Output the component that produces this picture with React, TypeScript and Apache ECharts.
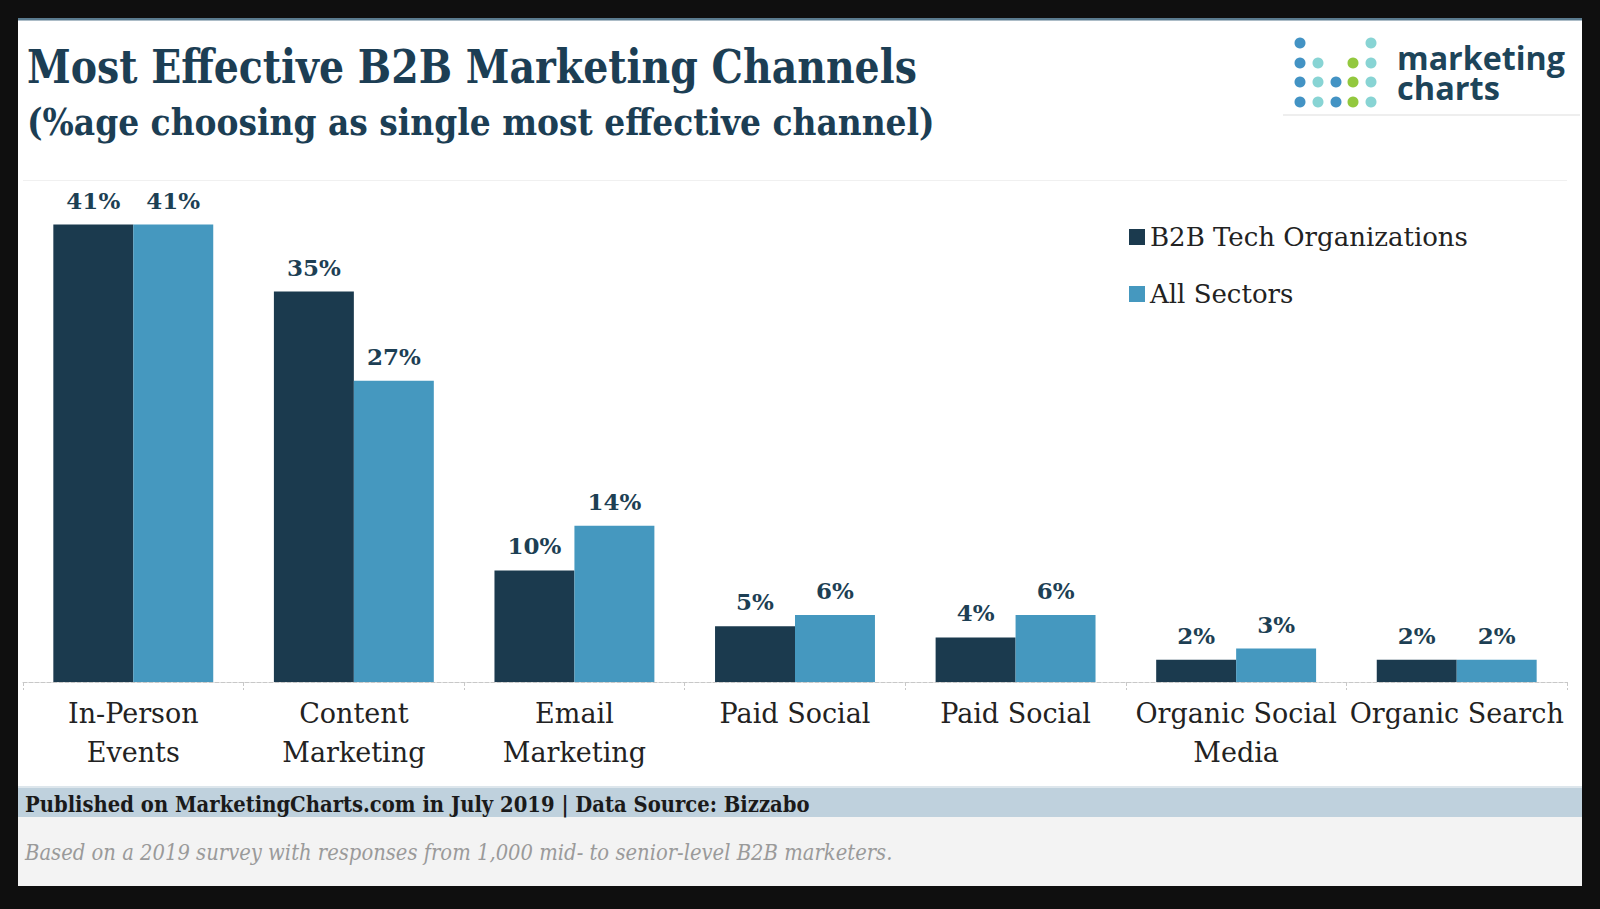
import React, { useEffect, useRef } from 'react';
import * as echarts from 'echarts';

const categories = [
  'In-Person\nEvents',
  'Content\nMarketing',
  'Email\nMarketing',
  'Paid Social',
  'Paid Social',
  'Organic Social\nMedia',
  'Organic Search',
];
const b2bTech = [41, 35, 10, 5, 4, 2, 2];
const allSectors = [41, 27, 14, 6, 6, 3, 2];
const seriesNames = ['B2B Tech Organizations', 'All Sectors'];

const TITLE = 'Most Effective B2B Marketing Channels';
const SUBTITLE = '(%age choosing as single most effective channel)';
const SOURCE = 'Published on MarketingCharts.com in July 2019 | Data Source: Bizzabo';
const NOTE = 'Based on a 2019 survey with responses from 1,000 mid- to senior-level B2B marketers.';

const SERIF = '"DejaVu Serif", "Liberation Serif", serif';
const DARK = '#1b3a4e';
const LIGHT = '#4598bf';
const TITLE_COLOR = '#1c3e54';

function fitScale(text: string, weight: string, style: string, size: number, family: string, target: number) {
  const ctx = document.createElement('canvas').getContext('2d');
  if (!ctx) return 1;
  ctx.font = `${style} ${weight} ${size}px ${family}`;
  const w = ctx.measureText(text).width;
  return w > 0 ? target / w : 1;
}

function fitText(text: string, x: number, baseline: number, size: number, weight: string, style: string, family: string, fill: string, target: number, centralRatio = 0.346) {
  const sx = fitScale(text, weight, style, size, family, target);
  return {
    type: 'text',
    x,
    y: baseline - centralRatio * size,
    scaleX: sx,
    style: {
      text,
      fontSize: size,
      fontWeight: weight,
      fontStyle: style,
      fontFamily: family,
      fill,
      align: 'left',
      verticalAlign: 'middle',
    },
  };
}

const DOT_BLUE = '#4393c4';
const DOT_TEAL = '#88d4d4';
const DOT_GREEN = '#93c83e';

export default function App() {
  const ref = useRef<HTMLDivElement>(null);

  useEffect(() => {
    if (!ref.current) return;
    const chart = echarts.init(ref.current, undefined, { renderer: 'svg' });

    const colX = [1300, 1318, 1336, 1353, 1371];
    const rowY = [43, 63, 82, 102];
    const dotMap: (string | null)[][] = [
      [DOT_BLUE, null, null, null, DOT_TEAL],
      [DOT_BLUE, DOT_TEAL, null, DOT_GREEN, DOT_TEAL],
      [DOT_BLUE, DOT_TEAL, DOT_BLUE, DOT_GREEN, DOT_TEAL],
      [DOT_BLUE, DOT_TEAL, DOT_BLUE, DOT_GREEN, DOT_TEAL],
    ];
    const dots: any[] = [];
    dotMap.forEach((row, r) =>
      row.forEach((c, ci) => {
        if (c) dots.push({ type: 'circle', shape: { cx: colX[ci], cy: rowY[r], r: 5.5 }, style: { fill: c } });
      })
    );

    const OPEN = '"Open Sans", sans-serif';

    const barLabel = {
      show: true,
      position: 'top',
      distance: 13,
      formatter: '{c}%',
      fontFamily: SERIF,
      fontWeight: 'bold',
      fontSize: 23,
      color: '#1d3f54',
    };

    chart.setOption({
      animation: false,
      backgroundColor: '#0f0f0f',
      graphic: [
        { type: 'rect', z: -10, shape: { x: 18, y: 18, width: 1564, height: 868 }, style: { fill: '#ffffff' } },
        { type: 'rect', z: -9, shape: { x: 18, y: 18, width: 1564, height: 2.5 }, style: { fill: '#5a7b8f' } },
        { type: 'rect', z: -9, shape: { x: 18, y: 786, width: 1564, height: 2 }, style: { fill: '#dde6ec' } },
        { type: 'rect', z: -9, shape: { x: 18, y: 788, width: 1564, height: 29 }, style: { fill: '#bfd1dd' } },
        { type: 'rect', z: -9, shape: { x: 18, y: 817, width: 1564, height: 69 }, style: { fill: '#f3f3f3' } },
        { type: 'line', z: -9, shape: { x1: 1283, y1: 115, x2: 1580, y2: 115 }, style: { stroke: '#e8e8e8', lineWidth: 1.5 } },
        fitText(TITLE, 27, 82, 47, 'bold', 'normal', SERIF, TITLE_COLOR, 890),
        fitText(SUBTITLE, 27, 135, 37, 'bold', 'normal', SERIF, TITLE_COLOR, 908),
        fitText(SOURCE, 25, 812, 23, 'bold', 'normal', SERIF, '#1a1a1a', 785),
        fitText(NOTE, 25, 860, 23, 'normal', 'italic', SERIF, '#9a9a9a', 868),
        fitText('marketing', 1397, 70, 32, 'bold', 'normal', OPEN, '#1d4459', 168, 0.388),
        fitText('charts', 1397, 100, 32, 'bold', 'normal', OPEN, '#1d4459', 103, 0.388),
        ...dots,
      ],
      legend: {
        orient: 'vertical',
        left: 1129,
        top: 224,
        padding: 0,
        itemWidth: 16,
        itemHeight: 16,
        itemGap: 31,
        icon: 'rect',
        data: seriesNames,
        textStyle: { fontFamily: SERIF, fontSize: 26, lineHeight: 26, color: '#222222' },
      },
      grid: { left: 23, right: 33, top: 180, bottom: 227, containLabel: false },
      xAxis: {
        type: 'category',
        data: categories,
        axisLine: { show: true, lineStyle: { color: '#c8c8c8', type: 'dashed', width: 1 } },
        axisTick: { show: true, length: 8, lineStyle: { color: '#c8c8c8', type: 'dashed' } },
        axisLabel: {
          interval: 0,
          margin: 12,
          fontFamily: SERIF,
          fontSize: 27,
          lineHeight: 39,
          color: '#222222',
        },
      },
      yAxis: {
        type: 'value',
        min: 0,
        max: 45,
        interval: 45,
        axisLabel: { show: false },
        axisLine: { show: false },
        axisTick: { show: false },
        splitLine: { show: true, lineStyle: { color: '#f0f0f0', width: 1 } },
      },
      series: [
        {
          name: seriesNames[0],
          type: 'bar',
          data: b2bTech,
          barGap: '0%',
          barCategoryGap: '27.5%',
          itemStyle: { color: DARK },
          label: barLabel,
        },
        {
          name: seriesNames[1],
          type: 'bar',
          data: allSectors,
          barGap: '0%',
          barCategoryGap: '27.5%',
          itemStyle: { color: LIGHT },
          label: barLabel,
        },
      ],
    });

    return () => chart.dispose();
  }, []);

  return <div ref={ref} style={{ position: 'fixed', left: 0, top: 0, width: 1600, height: 909 }} />;
}
